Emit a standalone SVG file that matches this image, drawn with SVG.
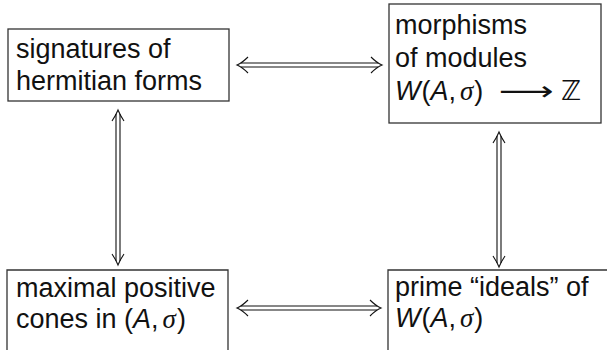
<svg xmlns="http://www.w3.org/2000/svg" width="607" height="350" viewBox="0 0 607 350">
  <style>
    .box { fill: #ffffff; stroke: #333333; stroke-width: 1.3; }
    .lbl { font-family: "Liberation Sans", "DejaVu Sans", sans-serif; font-size: 27px; fill: #111111; }
    .it { font-style: italic; }
    .sig { font-family: "Liberation Serif", serif; font-style: italic; }
    .sym { font-family: "DejaVu Sans", sans-serif; }
    .dbl { fill: none; stroke: #111111; stroke-width: 1.1; }
  </style>
  <rect width="607" height="350" fill="#ffffff"/>

  <g id="signatures">
    <rect class="box" x="8" y="29" width="221" height="72"/>
    <text class="lbl" x="16" y="58">signatures of</text>
    <text class="lbl" x="16" y="90">hermitian forms</text>
  </g>

  <g id="morphisms">
    <rect class="box" x="389" y="4" width="212" height="119"/>
    <text class="lbl" x="395" y="34">morphisms</text>
    <text class="lbl" x="395" y="67">of modules</text>
    <text class="lbl" x="395" y="100"><tspan class="it">W</tspan><tspan dx="1">(</tspan><tspan class="it">A</tspan>,<tspan dx="4" class="sig">σ</tspan><tspan dx="1">)</tspan></text>
    <text class="lbl sym" x="499" y="100" font-size="22" textLength="55" lengthAdjust="spacingAndGlyphs">⟶</text>
    <text class="lbl sym" x="561" y="100" font-size="26">ℤ</text>
  </g>

  <g id="cones">
    <path class="box" d="M7,351 V270 H228 V351"/>
    <text class="lbl" x="16" y="297">maximal positive</text>
    <text class="lbl" x="16" y="328">cones in (<tspan class="it">A</tspan>,<tspan dx="4" class="sig">σ</tspan><tspan dx="1">)</tspan></text>
  </g>

  <g id="primes">
    <path class="box" d="M388,351 V270 H608"/>
    <text class="lbl" x="395" y="296">prime “ideals” of</text>
    <text class="lbl" x="395" y="327"><tspan class="it">W</tspan><tspan dx="1">(</tspan><tspan class="it">A</tspan>,<tspan dx="4" class="sig">σ</tspan><tspan dx="1">)</tspan></text>
  </g>

  <g id="connectors">
    <!-- top: signatures <=> morphisms -->
    <path class="dbl" d="M241,63 H378 M241,67 H378"/>
    <path class="dbl" d="M248,57 Q242,63 237,65 Q242,67 248,73"/>
    <path class="dbl" d="M371,57 Q377,63 382,65 Q377,67 371,73"/>

    <!-- bottom: cones <=> primes -->
    <path class="dbl" d="M241,306 H377 M241,310 H377"/>
    <path class="dbl" d="M248,300 Q242,306 237,308 Q242,310 248,316"/>
    <path class="dbl" d="M370,300 Q376,306 381,308 Q376,310 370,316"/>

    <!-- left: signatures <=> cones -->
    <path class="dbl" d="M116,114 V261 M120,114 V261"/>
    <path class="dbl" d="M112,121 Q116,115 118,110 Q120,115 124,121"/>
    <path class="dbl" d="M112,254 Q116,260 118,265 Q120,260 124,254"/>

    <!-- right: morphisms <=> primes -->
    <path class="dbl" d="M497,136 V263 M501,136 V263"/>
    <path class="dbl" d="M493,143 Q497,137 499,132 Q501,137 505,143"/>
    <path class="dbl" d="M493,256 Q497,262 499,267 Q501,262 505,256"/>
  </g>
</svg>
